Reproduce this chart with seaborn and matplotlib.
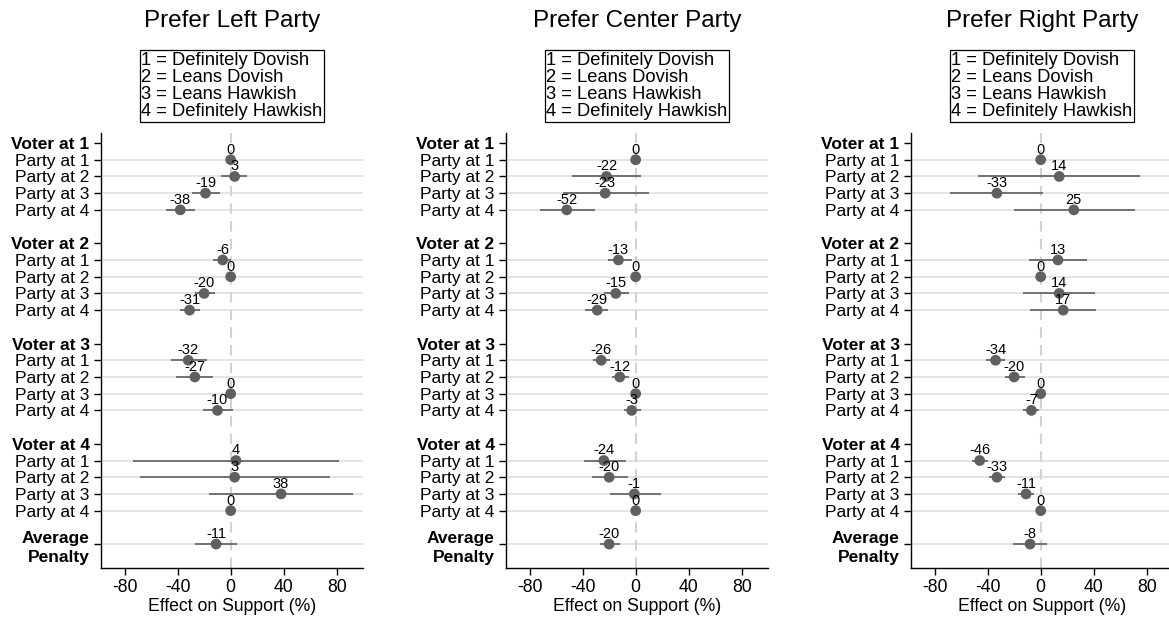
import numpy as np
import pandas as pd
import matplotlib.pyplot as plt
import seaborn as sns

nan = np.nan

# %%
panel_titles = ["Prefer Left Party", "Prefer Center Party", "Prefer Right Party"]
legend_text = "1 = Definitely Dovish\n2 = Leans Dovish\n3 = Leans Hawkish\n4 = Definitely Hawkish"

voters = [1, 2, 3, 4]
parties = [1, 2, 3, 4]

# 16 voter x party rows, then the average penalty
left_est = [0, 3, -19, -38, -6, 0, -20, -31, -32, -27, 0, -10, 4, 3, 38, 0, -11]
left_lo = [nan, -7, -29, -49, -13, nan, -27, -38, -45, -41, nan, -21, -74, -68, -16, nan, -27]
left_hi = [nan, 12, -8, -27, 0, nan, -12, -23, -18, -13, nan, 2, 82, 75, 92, nan, 5]

center_est = [0, -22, -23, -52, -13, 0, -15, -29, -26, -12, 0, -3, -24, -20, -1, 0, -20]
center_lo = [nan, -48, -55, -72, -21, nan, -24, -38, -32, -18, nan, -9, -39, -33, -19, nan, -27]
center_hi = [nan, 4, 10, -31, -3, nan, -5, -21, -19, -5, nan, 4, -7, -6, 19, nan, -12]

right_est = [0, 14, -33, 25, 13, 0, 14, 17, -34, -20, 0, -7, -46, -33, -11, 0, -8]
right_lo = [nan, -47, -68, -20, -9, nan, -13, -8, -41, -27, nan, -13, -52, -39, -17, nan, -21]
right_hi = [nan, 75, 2, 71, 35, nan, 41, 42, -27, -12, nan, -1, -40, -27, -5, nan, 5]

xticks = [-80, -40, 0, 40, 80]

# %%
sns.set_style("white")
plt.rcParams["font.family"] = ["Liberation Sans", "DejaVu Sans"]
plt.rcParams["axes.unicode_minus"] = False
plt.rcParams["text.color"] = "black"
plt.rcParams["axes.labelcolor"] = "black"
plt.rcParams["xtick.color"] = "black"
plt.rcParams["ytick.color"] = "black"

# row layout: header, 4 parties, blank ... then average
row_pos = [6 * (v - 1) + p for v in voters for p in parties] + [24]

tick_pos = []
tick_lab = []
tick_head = []
for v in voters:
    tick_pos.append(6 * (v - 1))
    tick_lab.append(f"Voter at {v}")
    tick_head.append(True)
    for p in parties:
        tick_pos.append(6 * (v - 1) + p)
        tick_lab.append(f"Party at {p}")
        tick_head.append(False)
tick_pos.append(24)
tick_lab.append("Average\nPenalty")
tick_head.append(False)

data = {
    "Prefer Left Party": (left_est, left_lo, left_hi),
    "Prefer Center Party": (center_est, center_lo, center_hi),
    "Prefer Right Party": (right_est, right_lo, right_hi),
}

fig = plt.figure(figsize=(11.69, 6.19), dpi=100)
lefts = [100.7, 505.7, 910.7]
W, H = 1169, 619

for i, title in enumerate(panel_titles):
    est, lo, hi = data[title]
    df = pd.DataFrame({"pos": row_pos, "est": est, "lo": lo, "hi": hi})

    ax = fig.add_axes([lefts[i] / W, 1 - 568.3 / H, 262.6 / W, 435.3 / H])

    ax.axvline(0, color="#d2d2d2", lw=1.5, dashes=(5, 3.5), zorder=1)
    ci = df.dropna()
    ax.hlines(ci["pos"], ci["lo"], ci["hi"], color="#686868", lw=1.3, zorder=2)
    sns.scatterplot(
        data=df, x="est", y="pos", ax=ax, color="#606060", s=60,
        edgecolor="none", zorder=3, legend=False,
    )
    for _, r in df.iterrows():
        ax.annotate(
            f"{int(round(r['est']))}", xy=(r["est"], r["pos"]),
            xytext=(0, 2.2), textcoords="offset points",
            ha="center", va="bottom", fontsize=10.5,
        )

    ax.set_xlim(-98, 100)
    ax.set_ylim(25.45, -0.6)
    ax.set_xticks(xticks)
    ax.set_xticklabels([str(t) for t in xticks], fontsize=12.7)
    ax.set_yticks(tick_pos)
    ax.set_yticklabels(tick_lab, fontsize=12.5)
    ax.grid(axis="y", color="#e2e2e2", lw=1.3, zorder=0)
    ax.grid(axis="x", visible=False)
    ax.set_axisbelow(True)

    for t, head, lab in zip(ax.yaxis.get_major_ticks(), tick_head, ax.get_yticklabels()):
        if head:
            t.tick1line.set_visible(False)
            t.gridline.set_visible(False)
            lab.set_fontweight("bold")
    ax.get_yticklabels()[-1].set_fontweight("bold")
    ax.get_yticklabels()[-1].set_linespacing(1.35)

    ax.tick_params(axis="y", length=5, width=1, pad=3, left=True)
    ax.tick_params(axis="x", length=5, width=1, pad=3, bottom=True)

    sns.despine(ax=ax)
    for s in ["left", "bottom"]:
        ax.spines[s].set_color("black")
        ax.spines[s].set_linewidth(1.0)

    ax.set_xlabel("Effect on Support (%)", fontsize=12.7, labelpad=1)
    ax.set_ylabel("")

    ax.text(0.5, 1.258, title, transform=ax.transAxes, ha="center", va="center",
            fontsize=17.5)
    ax.text(0.5, 1.108, legend_text, transform=ax.transAxes, ha="center", va="center",
            fontsize=13.2, linespacing=1.0, multialignment="left",
            bbox=dict(boxstyle="square,pad=0.1", fc="white", ec="black", lw=0.9))

plt.savefig("out.png", dpi=100)
